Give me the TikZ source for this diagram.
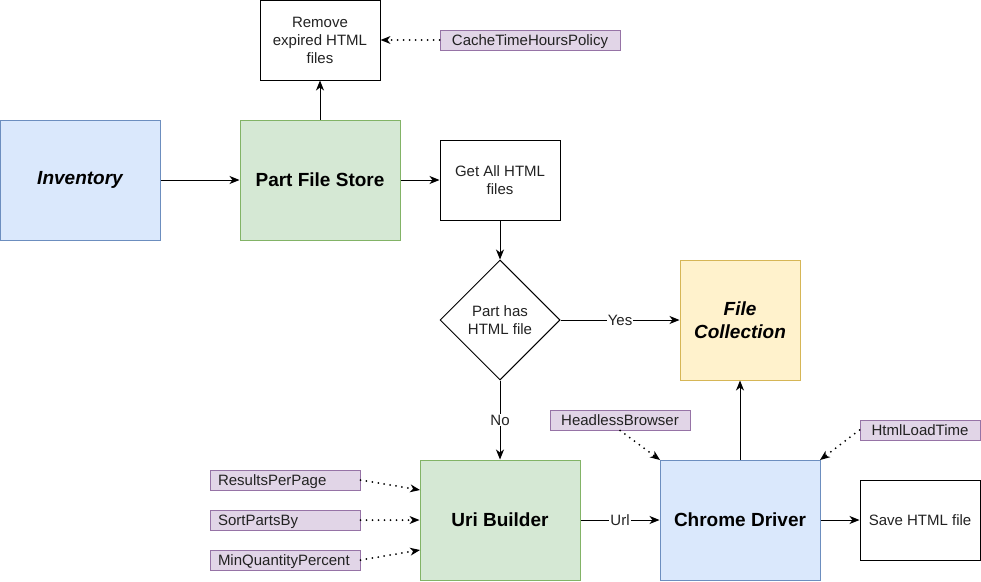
\documentclass[tikz,border=0pt]{standalone}
\usepackage{fontspec}
\setmainfont{Liberation Sans}
\usetikzlibrary{arrows.meta,shapes.geometric}
\definecolor{bluefill}{HTML}{DAE8FC}
\definecolor{bluedraw}{HTML}{6C8EBF}
\definecolor{greenfill}{HTML}{D5E8D4}
\definecolor{greendraw}{HTML}{82B366}
\definecolor{yellowfill}{HTML}{FFF2CC}
\definecolor{yellowdraw}{HTML}{D6B656}
\definecolor{purplefill}{HTML}{E1D5E7}
\definecolor{purpledraw}{HTML}{9673A6}
\definecolor{txt}{HTML}{222222}
\tikzset{
  box/.style={draw=black, line width=1pt, fill=white, minimum width=120pt, minimum height=80pt, align=center, inner sep=2pt, font=\fontsize{15pt}{18pt}\selectfont, text=txt},
  bigbox/.style={line width=1pt, minimum width=160pt, minimum height=120pt, align=center, font=\fontsize{19pt}{23pt}\selectfont\bfseries, text=black},
  bluebox/.style={bigbox, draw=bluedraw, fill=bluefill},
  greenbox/.style={bigbox, draw=greendraw, fill=greenfill},
  tag/.style={draw=purpledraw, fill=purplefill, line width=1pt, minimum height=20pt, inner sep=0pt, text height=10.5pt, text depth=0pt, font=\fontsize{15pt}{17pt}\selectfont, text=txt},
  conn/.style={line width=1pt, -{Stealth[length=10pt,width=8pt,inset=3pt]}},
  dotconn/.style={line width=2pt, dash pattern=on 0pt off 6pt, line cap=round, -{Stealth[length=10pt,width=8pt,inset=3pt,line width=0pt]}},
  lbl/.style={fill=white, inner sep=1pt, font=\fontsize{15pt}{17pt}\selectfont, text=txt}
}
\begin{document}
\begin{tikzpicture}[x=1pt,y=-1pt]
\useasboundingbox (0,0) rectangle (981,581);
\node[bluebox] (inv) at (80,180) {\itshape Inventory};
\node[greenbox] (pfs) at (320,180) {Part File Store};
\node[box] (rem) at (320,40) {Remove\\expired HTML\\files};
\node[tag, minimum width=180pt] (cache) at (530,40) {CacheTimeHoursPolicy};
\node[box] (get) at (500,180) {Get All HTML\\files};
\node[diamond, draw=black, line width=1pt, fill=white, minimum width=120pt, minimum height=120pt, inner sep=0pt, aspect=1, align=center, font=\fontsize{15pt}{18pt}\selectfont, text=txt] (dec) at (500,320) {Part has\\HTML file};
\node[bigbox, draw=yellowdraw, fill=yellowfill, minimum width=120pt] (fc) at (740,320) {\itshape File\\\itshape Collection};
\node[greenbox] (uri) at (500,520) {Uri Builder};
\node[bluebox] (cd) at (740,520) {Chrome Driver};
\node[box] (save) at (920,520) {Save HTML file};
\node[tag, minimum width=140pt] (head) at (620,420) {HeadlessBrowser};
\node[tag, minimum width=120pt] (hlt) at (920,430) {HtmlLoadTime};
\node[tag, minimum width=150pt, text width=134pt, align=left] (rpp) at (285,480) {ResultsPerPage};
\node[tag, minimum width=150pt, text width=134pt, align=left] (spb) at (285,520) {SortPartsBy};
\node[tag, minimum width=150pt, text width=134pt, align=left] (mqp) at (285,560) {MinQuantityPercent};
\coordinate (cdtl) at (660,460);
\coordinate (cdtr) at (820,460);
\draw[conn] (inv) -- (pfs);
\draw[conn] (pfs.east) -- (get.west |- pfs.east);
\draw[conn] (pfs.north) -- (rem.south);
\draw[dotconn] (cache.west) -- (rem.east);
\draw[conn] (get) -- (dec);
\draw[conn] (dec.east) -- node[lbl] {Yes} (fc.west);
\draw[conn] (dec.south) -- node[lbl, pos=0.5] {No} (uri.north);
\draw[conn] (uri) -- node[lbl] {Url} (cd);
\draw[conn] (cd.north) -- (fc.south);
\draw[conn] (cd) -- (save);
\draw[dotconn] (head.south) -- (cdtl);
\draw[dotconn] (hlt.west) -- (cdtr);
\draw[dotconn] (rpp.east) -- (420,490);
\draw[dotconn] (spb.east) -- (uri.west);
\draw[dotconn] (mqp.east) -- (420,550);
\end{tikzpicture}
\end{document}
